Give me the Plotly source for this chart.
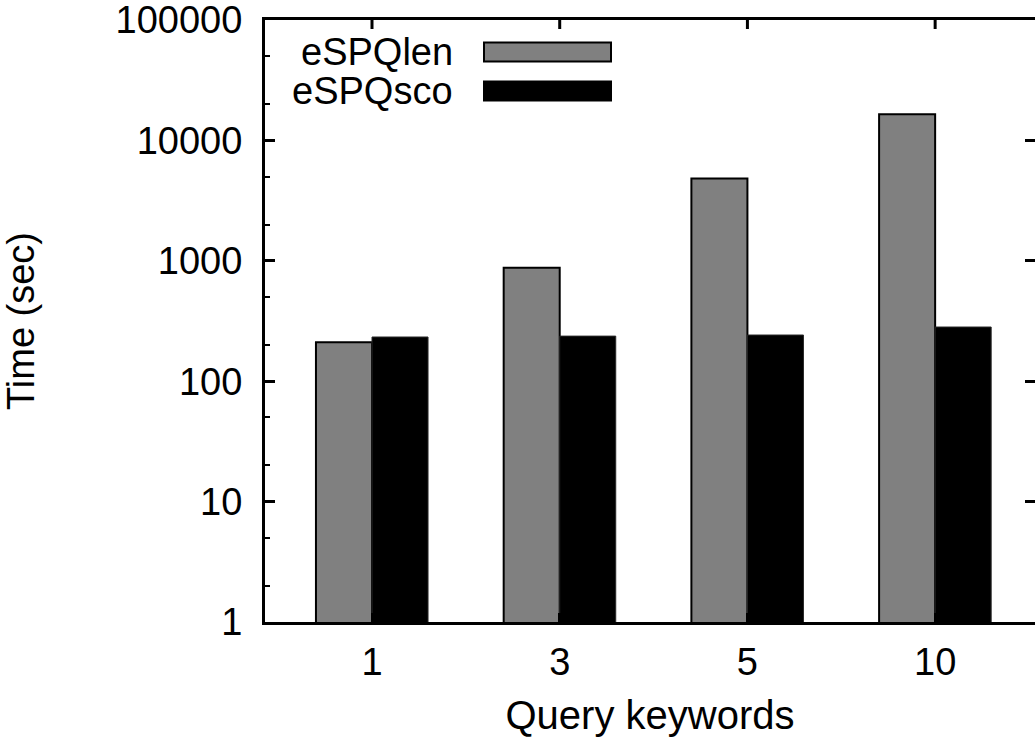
import plotly.graph_objects as go

# Query keyword counts on the x axis and run times (seconds) per method
keywords = ["1", "3", "5", "10"]
series_names = ["eSPQlen", "eSPQsco"]
espq_len = [211, 875, 4830, 16470]
espq_sco = [233, 237, 242, 282]

y_tick_vals = [1, 10, 100, 1000, 10000, 100000]
y_tick_text = ["1", "10", "100", "1000", "10000", "100000"]

FONT = "Liberation Sans, Arial, Helvetica, sans-serif"
FS = 38

W, H = 1035, 744
L, T, R, B = 265, 20, 0, 122
pos = list(range(len(keywords)))
X_RANGE = [-0.57, 3.532]
Y_RANGE = [0, 5.0005]

fig = go.Figure()
fig.add_trace(go.Bar(
    x=pos, y=espq_len, name=series_names[0],
    marker=dict(color="rgb(128,128,128)", line=dict(color="black", width=2)),
    showlegend=False,
))
fig.add_trace(go.Bar(
    x=pos, y=espq_sco, name=series_names[1],
    marker=dict(color="black", line=dict(color="rgb(40,40,40)", width=1)),
    showlegend=False,
))
# empty trace so the right-hand tick axis gets rendered
fig.add_trace(go.Scatter(x=[None], y=[None], xaxis="x", yaxis="y2",
                         showlegend=False, hoverinfo="skip"))

pw, ph = W - L - R, H - T - B
def px(x):
    return (x - L) / pw
def py(y):
    return (H - B - y) / ph

# inward tick marks on the top border at each keyword position
TOP_TICK = 9
for p in pos:
    fig.add_shape(type="line", xref="x", yref="paper",
                  x0=p, x1=p, y0=1, y1=1 - TOP_TICK / ph,
                  line=dict(color="black", width=3))

# Legend drawn gnuplot-style: right-aligned text with the sample box to its right
legend_rows = [(series_names[0], "rgb(128,128,128)", "black", 52),
               (series_names[1], "black", "black", 91)]
for name, fill, edge, yc in legend_rows:
    fig.add_annotation(x=px(455), y=py(yc), xref="paper", yref="paper",
                       text=name, showarrow=False, xanchor="right", yanchor="middle",
                       font=dict(family=FONT, size=FS, color="black"))
    fig.add_shape(type="rect", xref="paper", yref="paper",
                  x0=px(484), x1=px(611), y0=py(yc - 9.5), y1=py(yc + 9.5),
                  fillcolor=fill, line=dict(color=edge, width=2))

fig.update_layout(
    width=W, height=H,
    margin=dict(l=L, r=R, t=T, b=B, pad=0),
    paper_bgcolor="white", plot_bgcolor="white",
    barmode="group", bargap=0.403, bargroupgap=0,
    font=dict(family=FONT, size=FS, color="black"),
    xaxis=dict(
        type="linear", range=X_RANGE, tickvals=pos, ticktext=keywords,
        showline=True, linecolor="black", linewidth=3, mirror=True,
        ticks="inside", ticklen=9, tickwidth=3, tickcolor="black",
        showgrid=False, zeroline=False,
        tickfont=dict(family=FONT, size=FS),
        ticklabelstandoff=4,
        title=dict(text="Query keywords", font=dict(family=FONT, size=40), standoff=20),
    ),
    yaxis=dict(
        type="log", range=Y_RANGE,
        tickvals=y_tick_vals, ticktext=y_tick_text,
        showline=True, linecolor="black", linewidth=3,
        ticks="inside", ticklen=10, tickwidth=3, tickcolor="black",
        minor=dict(ticks="inside", ticklen=5, tickwidth=2, tickcolor="black", dtick="D2"),
        showgrid=False, zeroline=False,
        tickfont=dict(family=FONT, size=FS),
        ticklabelstandoff=12, ticklabeloverflow="allow",
        title=dict(text="Time (sec)", font=dict(family=FONT, size=FS), standoff=72),
    ),
    yaxis2=dict(
        type="log", range=Y_RANGE, overlaying="y", side="right", anchor="x",
        tickvals=y_tick_vals, showticklabels=False,
        showline=False, ticks="inside", ticklen=10, tickwidth=3, tickcolor="black",
        showgrid=False, zeroline=False,
    ),
)

fig.write_html("out.html")
